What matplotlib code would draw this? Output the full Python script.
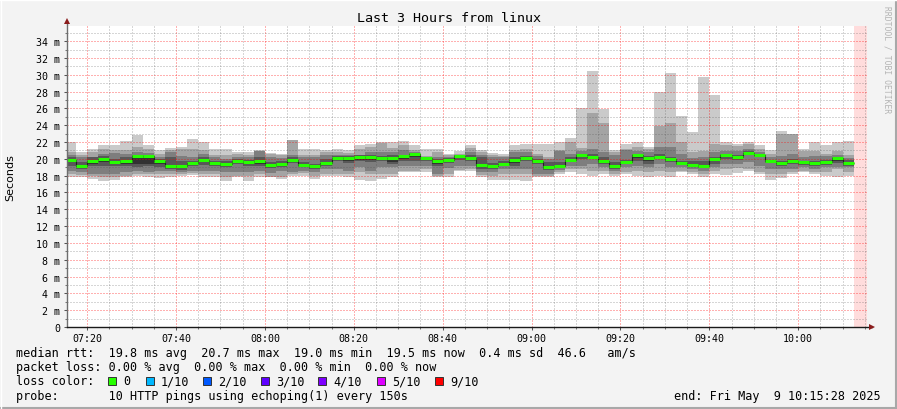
import numpy as np
import matplotlib
matplotlib.use('Agg')
import matplotlib.pyplot as plt
from matplotlib.patches import Rectangle
from matplotlib.lines import Line2D
from matplotlib.ticker import MultipleLocator, FuncFormatter

plt.rcParams['font.family'] = 'DejaVu Sans Mono'
plt.rcParams['lines.scale_dashes'] = False

# time axis in minutes since midnight, 150 s steps starting at 07:15
start_min = 435.0
step_min = 2.5
view_start = 435 + 28 / 60.0   # 07:15:28
view_end = 615 + 28 / 60.0     # 10:15:28

# median rtt per step (ms)
median = [19.9, 19.2, 19.8, 20.0, 19.6, 19.7, 20.3, 20.3, 19.7, 19.1, 19.1, 19.5,
          19.9, 19.5, 19.4, 19.8, 19.6, 19.7, 19.3, 19.4, 19.9, 19.3, 19.1, 19.5,
          20.05, 20.05, 20.25, 20.2, 20.05, 20.05, 20.3, 20.55, 20.05, 19.7, 19.9, 20.3,
          20.05, 19.3, 19.1, 19.4, 19.85, 20.05, 19.8, 19.0, 19.2, 19.85, 20.4, 20.25,
          19.7, 19.1, 19.65, 20.5, 20.05, 20.25, 19.97, 19.5, 19.3, 19.2, 19.97, 20.45,
          20.17, 20.73, 20.5, 19.78, 19.5, 19.8, 19.58, 19.46, 19.62, 20.1, 19.5]

# smoke: sorted pings, outer pair (hi1/lo1) to inner pair (hi4/lo4, lo5)
hi1 = [22.0, 20.8, 21.2, 21.6, 21.6, 22.1, 22.8, 21.6, 21.0, 21.3, 21.4, 22.4,
       22.0, 21.2, 21.2, 20.8, 20.8, 21.0, 20.7, 20.6, 22.3, 21.2, 21.2, 21.0,
       21.2, 21.0, 21.6, 21.8, 22.0, 22.0, 22.1, 21.6, 21.2, 21.2, 20.6, 20.9,
       21.6, 21.0, 20.7, 20.6, 21.6, 21.8, 21.8, 21.8, 22.0, 22.5, 26.0, 30.4,
       25.9, 21.0, 21.8, 22.0, 21.4, 28.0, 30.2, 25.1, 23.2, 29.7, 27.6, 22.0,
       21.8, 22.05, 21.6, 21.0, 23.3, 22.9, 21.2, 22.05, 21.6, 22.0, 22.15]
hi2 = [20.8, 20.5, 20.8, 21.2, 21.0, 21.0, 21.4, 21.2, 20.6, 21.0, 21.2, 21.2,
       21.0, 20.4, 20.4, 20.6, 20.5, 20.95, 20.6, 20.4, 22.2, 20.4, 20.4, 20.8,
       20.8, 20.7, 21.2, 21.4, 21.9, 21.3, 21.6, 21.1, 20.3, 20.8, 20.4, 20.6,
       21.3, 20.8, 20.4, 20.3, 21.0, 21.2, 20.6, 20.2, 21.0, 22.0, 21.3, 25.4,
       24.3, 20.8, 21.2, 21.4, 21.2, 23.9, 24.3, 22.0, 20.8, 20.9, 21.8, 21.6,
       21.5, 21.8, 21.2, 20.6, 22.95, 22.9, 20.9, 20.9, 20.6, 20.95, 20.4]
hi3 = [20.5, 20.2, 20.2, 20.6, 20.7, 20.6, 20.8, 20.7, 20.2, 20.8, 20.3, 20.2,
       20.6, 20.2, 20.0, 20.2, 20.2, 20.9, 20.2, 20.1, 20.4, 20.2, 20.2, 20.4,
       20.4, 20.4, 20.4, 20.8, 20.8, 20.8, 21.0, 20.8, 20.2, 20.2, 20.2, 20.5,
       20.8, 20.5, 20.2, 20.2, 20.8, 20.8, 20.3, 20.0, 20.9, 20.6, 20.95, 21.2,
       20.8, 20.5, 21.0, 20.9, 20.8, 21.4, 21.4, 20.6, 20.05, 20.2, 20.8, 20.97,
       20.97, 21.2, 20.77, 20.17, 20.37, 20.57, 20.17, 20.37, 20.37, 20.5, 20.05]
hi4 = [20.2, 19.6, 20.2, 20.3, 20.0, 20.2, 20.5, 20.5, 20.0, 20.2, 19.8, 19.8,
       20.2, 19.8, 19.8, 20.0, 19.9, 20.2, 19.6, 19.7, 20.2, 19.6, 19.4, 20.0,
       20.3, 20.3, 20.5, 20.5, 20.3, 20.4, 20.5, 20.7, 20.2, 20.0, 20.1, 20.4,
       20.5, 20.2, 19.5, 19.7, 20.2, 20.3, 20.0, 19.6, 19.6, 20.2, 20.6, 20.6,
       20.2, 19.6, 19.9, 20.6, 20.3, 20.6, 20.2, 19.8, 19.7, 19.7, 20.2, 20.6,
       20.4, 20.9, 20.6, 19.9, 19.8, 20.0, 19.8, 19.8, 19.9, 20.2, 19.9]
lo5 = [19.6, 19.0, 19.4, 19.6, 19.4, 19.4, 19.4, 19.4, 19.4, 18.9, 18.9, 19.3,
       19.6, 19.3, 19.2, 19.6, 19.4, 19.4, 19.1, 19.2, 19.7, 19.1, 18.9, 19.3,
       19.9, 19.8, 19.9, 19.9, 19.9, 19.6, 20.0, 20.2, 19.9, 19.4, 19.6, 20.1,
       19.9, 19.0, 18.9, 19.3, 19.5, 19.9, 19.5, 18.8, 19.1, 19.7, 20.2, 20.1,
       19.5, 18.9, 19.5, 20.1, 19.8, 20.1, 19.8, 19.4, 19.2, 19.0, 19.7, 20.2,
       20.0, 20.6, 20.3, 19.6, 19.3, 19.5, 19.4, 19.3, 19.4, 19.8, 19.3]
lo4 = [19.1, 18.8, 19.1, 19.1, 19.2, 19.2, 19.0, 19.1, 19.0, 18.8, 18.7, 19.2,
       19.3, 19.2, 19.0, 19.4, 19.2, 19.2, 18.9, 19.0, 19.5, 19.0, 18.8, 19.2,
       19.7, 19.5, 19.7, 19.6, 19.7, 19.4, 19.8, 19.8, 19.8, 19.2, 19.5, 19.9,
       19.8, 18.8, 18.8, 19.2, 19.2, 19.8, 19.4, 18.7, 19.0, 19.6, 20.0, 20.0,
       19.4, 18.8, 19.4, 19.8, 19.4, 20.0, 19.6, 19.3, 19.1, 18.9, 19.4, 20.0,
       19.9, 20.4, 20.2, 19.5, 19.2, 19.4, 19.3, 19.2, 19.3, 19.5, 19.2]
lo3 = [18.6, 18.4, 18.2, 18.2, 18.2, 18.4, 18.6, 18.4, 18.6, 18.5, 18.4, 18.6,
       18.6, 18.6, 18.4, 18.4, 18.4, 18.6, 18.3, 18.5, 18.4, 18.6, 18.4, 18.8,
       18.8, 18.6, 19.0, 18.6, 19.0, 19.0, 19.2, 19.2, 19.2, 18.2, 18.9, 19.2,
       19.2, 18.4, 18.4, 18.8, 18.8, 18.8, 18.2, 18.2, 18.7, 19.2, 19.2, 19.4,
       19.0, 18.5, 19.0, 19.2, 19.0, 19.4, 19.0, 19.0, 18.8, 18.6, 19.0, 19.4,
       19.4, 19.6, 19.2, 18.8, 18.8, 18.8, 19.0, 18.8, 19.0, 19.0, 19.0]
lo2 = [18.2, 18.1, 18.0, 17.9, 17.9, 18.0, 18.2, 18.2, 18.2, 18.2, 18.2, 18.3,
       18.2, 18.2, 17.9, 18.0, 18.0, 18.2, 17.9, 17.9, 18.2, 18.3, 18.0, 18.2,
       18.2, 18.2, 18.4, 18.2, 18.2, 18.2, 18.6, 18.6, 18.8, 18.0, 18.2, 18.7,
       18.8, 18.1, 18.0, 18.2, 18.2, 18.2, 18.0, 18.0, 18.4, 18.8, 18.8, 18.6,
       18.6, 18.2, 18.4, 18.6, 18.4, 18.6, 18.4, 18.6, 18.4, 18.2, 18.6, 18.8,
       18.9, 18.8, 18.4, 18.2, 18.2, 18.4, 18.6, 18.4, 18.4, 18.8, 18.4]
lo1 = [17.9, 17.9, 17.6, 17.4, 17.5, 17.8, 18.0, 17.8, 17.7, 17.9, 18.0, 18.1,
       17.9, 17.9, 17.4, 17.9, 17.4, 17.8, 17.8, 17.6, 18.0, 18.0, 17.6, 18.0,
       18.0, 17.9, 17.5, 17.4, 17.6, 17.8, 18.4, 18.4, 18.4, 17.8, 17.9, 18.5,
       18.5, 17.8, 17.5, 17.5, 17.5, 17.4, 17.8, 17.8, 18.2, 18.4, 18.2, 18.0,
       18.2, 18.0, 18.2, 18.0, 17.8, 18.0, 17.8, 18.4, 18.2, 17.9, 18.2, 18.1,
       18.3, 18.6, 18.2, 17.5, 17.7, 18.2, 18.4, 18.2, 18.0, 17.8, 18.0]

smoke_colors = ['#cacaca', '#a4a4a4', '#7e7e7e', '#585858', '#323232']

loss_labels = ['0', '1/10', '2/10', '3/10', '4/10', '5/10', '9/10']
loss_colors = ['#26ff00', '#00b8ff', '#0059ff', '#5e00ff', '#7e00ff', '#dd00ff', '#ff0000']

stats_line = 'median rtt:  19.8 ms avg  20.7 ms max  19.0 ms min  19.5 ms now  0.4 ms sd  46.6   am/s'
loss_line = 'packet loss: 0.00 % avg  0.00 % max  0.00 % min  0.00 % now'
probe_line = 'probe:       10 HTTP pings using echoping(1) every 150s'
end_line = 'end: Fri May  9 10:15:28 2025'

W, H = 897, 410
fig = plt.figure(figsize=(W / 100, H / 100), dpi=100, facecolor='#f3f3f3')
ax = fig.add_axes([67 / W, 1 - 328 / H, 800 / W, 301 / H])
ax.set_facecolor('white')

edges = start_min + step_min * np.arange(len(median) + 1)

# unknown (no data yet) region
ax.axvspan(edges[-1], view_end, color='#ffdcdc', lw=0, zorder=1)

lows = [lo1, lo2, lo3, lo4, lo5]
highs = [hi1, hi2, hi3, hi4, median]
for lo, hi, c in zip(lows, highs, smoke_colors):
    ax.stairs(hi, edges, baseline=lo, fill=True, color=c, lw=0, zorder=2)

ax.stairs(median, edges, baseline=None, color='#202020', lw=0.8, zorder=3)
ax.hlines(median, edges[:-1], edges[1:], color=loss_colors[0], lw=2.2, zorder=4)

ax.set_xlim(view_start, view_end)
ax.set_ylim(0, 35.8)

ax.xaxis.set_major_locator(MultipleLocator(20))
ax.xaxis.set_minor_locator(MultipleLocator(5))
ax.xaxis.set_major_formatter(FuncFormatter(lambda v, p: '%02d:%02d' % (int(v) // 60, int(v) % 60)))
ax.yaxis.set_major_locator(MultipleLocator(2))
ax.yaxis.set_minor_locator(MultipleLocator(1))
ax.yaxis.set_major_formatter(FuncFormatter(lambda v, p: '0' if v == 0 else '%d m' % v))

# grid over the data, semi transparent like rrdtool
ax.set_axisbelow(False)
dots = (0, (0.72, 1.44))
ax.grid(which='minor', color='#4d4d4d', alpha=0.45, lw=0.72, linestyle=dots)
ax.grid(which='major', color='#ff0000', alpha=0.62, lw=0.72, linestyle=dots)

ax.tick_params(which='major', length=2.2, width=0.75, color='#555555', labelsize=7.2, direction='out')
ax.tick_params(which='minor', length=1.2, width=0.75, color='#777777', direction='out')
ax.tick_params(axis='y', which='major', pad=2.8)
ax.tick_params(axis='x', which='major', pad=2.2)

for s in ax.spines.values():
    s.set_visible(False)

# axes with arrow heads
ax.add_line(Line2D([0, 0], [0, 1 + 5 / 301], transform=ax.transAxes, color='#6e6e6e', lw=1.0, clip_on=False, zorder=5))
ax.add_line(Line2D([0, 1 + 5 / 800], [0, 0], transform=ax.transAxes, color='#1a1a1a', lw=1.0, clip_on=False, zorder=5))
ax.plot([0], [1 + 5 / 301], marker='^', ms=4.5, color='#8b1c1c', mew=0, transform=ax.transAxes, clip_on=False, zorder=6)
ax.plot([1 + 5 / 800], [0], marker='>', ms=4.5, color='#8b1c1c', mew=0, transform=ax.transAxes, clip_on=False, zorder=6)

ax.set_ylabel('Seconds', family='DejaVu Sans', fontsize=8)
ax.yaxis.set_label_coords(-52 / 800, 0.5)

def fy(y):
    return 1 - y / H

fig.text(0.5, fy(19), 'Last 3 Hours from linux', ha='center', va='center', fontsize=9.6)
fig.text(887 / W, fy(6), 'RRDTOOL / TOBI OETIKER', rotation=270, ha='center', va='top',
         fontsize=5.8, color='#b4b4b4')

fig.text(16 / W, fy(354), stats_line, ha='left', va='center', fontsize=8.5)
fig.text(16 / W, fy(368), loss_line, ha='left', va='center', fontsize=8.5)
fig.text(16 / W, fy(382), 'loss color:', ha='left', va='center', fontsize=8.5)
fig.text(16 / W, fy(396.5), probe_line, ha='left', va='center', fontsize=8.5)
fig.text(881 / W, fy(396.5), end_line, ha='right', va='center', fontsize=8.5)

sq_x = [108, 146, 203, 261, 318, 377, 435]
for x, lab, c in zip(sq_x, loss_labels, loss_colors):
    fig.add_artist(Rectangle((x / W, fy(386)), 8 / W, 8 / H, transform=fig.transFigure,
                             facecolor=c, edgecolor='#333333', lw=0.7))
    fig.text((x + 15) / W, fy(382), lab, ha='left', va='center', fontsize=8.5)

# 3d frame around the image
fig.add_artist(Line2D([0, 1], [1 / H, 1 / H], transform=fig.transFigure, color='#a8a8a8', lw=1.5))
fig.add_artist(Line2D([1 - 1 / W, 1 - 1 / W], [0, 1], transform=fig.transFigure, color='#a8a8a8', lw=1.5))
fig.add_artist(Line2D([0, 1], [1 - 0.5 / H, 1 - 0.5 / H], transform=fig.transFigure, color='#ffffff', lw=1.0))
fig.add_artist(Line2D([0.5 / W, 0.5 / W], [0, 1], transform=fig.transFigure, color='#ffffff', lw=1.0))

fig.savefig('out.png', dpi=100, facecolor=fig.get_facecolor())
